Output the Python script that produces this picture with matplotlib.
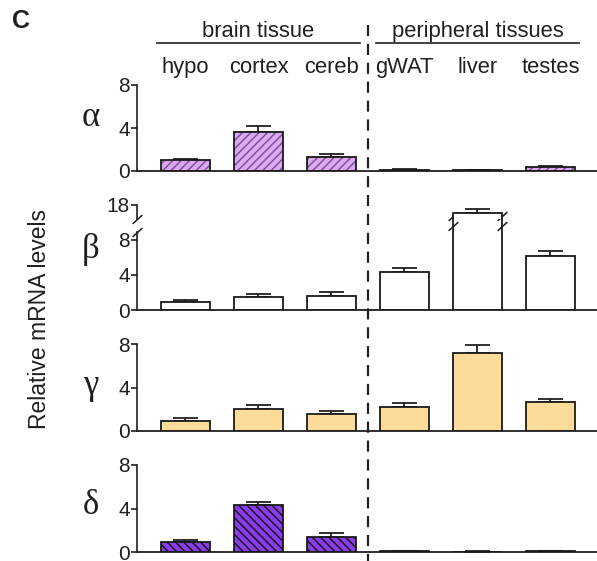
import numpy as np
import matplotlib
matplotlib.use('Agg')
import matplotlib.pyplot as plt
from matplotlib.patches import ConnectionPatch
from matplotlib.transforms import blended_transform_factory

plt.rcParams['font.family'] = ['Liberation Sans', 'DejaVu Sans']
plt.rcParams['hatch.linewidth'] = 1.0

# data
tissues = ['hypo', 'cortex', 'cereb', 'gWAT', 'liver', 'testes']
groups = ['brain tissue', 'peripheral tissues']
alpha_mean = [1.0, 3.65, 1.3, 0.08, 0.05, 0.35]
alpha_err = [0.15, 0.55, 0.25, 0.06, 0.04, 0.1]
beta_mean = [0.9, 1.5, 1.65, 4.3, 17.1, 6.2]
beta_err = [0.2, 0.3, 0.35, 0.5, 0.5, 0.5]
gamma_mean = [0.92, 2.0, 1.6, 2.25, 7.2, 2.65]
gamma_err = [0.23, 0.4, 0.2, 0.35, 0.7, 0.25]
delta_mean = [0.92, 4.3, 1.4, 0.06, 0.03, 0.06]
delta_err = [0.2, 0.33, 0.32, 0.04, 0.02, 0.04]

txt = '#231f20'
pos = np.arange(len(tissues))
w = 0.67
W, H = 597, 561

fig = plt.figure(figsize=(5.97, 5.61), dpi=100)


def add_ax(bottom_px, height_px):
    return fig.add_axes([137 / W, bottom_px / H, 460 / W, height_px / H])


def style(ax, ylim, ticks):
    ax.set_xlim(-0.664, 5.637)
    ax.set_ylim(*ylim)
    ax.set_yticks(ticks)
    ax.set_xticks([])
    for s in ['top', 'right']:
        ax.spines[s].set_visible(False)
    ax.spines['left'].set_linewidth(1.2)
    ax.spines['bottom'].set_linewidth(1.3)
    ax.spines['left'].set_color(txt)
    ax.spines['bottom'].set_color(txt)
    ax.tick_params(axis='y', length=4, width=1.2, pad=1, labelsize=15,
                   colors=txt)
    ax.patch.set_visible(False)


def draw_bars(ax, mean, err, face, hatch=None, hatch_col='k'):
    ax.errorbar(pos, mean, yerr=[np.zeros(len(mean)), err], fmt='none',
                ecolor=txt, elinewidth=1.3, capsize=9, capthick=1.3, zorder=1)
    if hatch:
        ax.bar(pos, mean, w, color=face, edgecolor=hatch_col, hatch=hatch,
               linewidth=0, zorder=2)
        ax.bar(pos, mean, w, fill=False, edgecolor='#1a1a1a', linewidth=1.3,
               zorder=3)
    else:
        ax.bar(pos, mean, w, color=face, edgecolor='#1a1a1a', linewidth=1.3,
               zorder=2)


# alpha
ax_a = add_ax(390, 86)
style(ax_a, (0, 8), [0, 4, 8])
draw_bars(ax_a, alpha_mean, alpha_err, '#dba9f2', '////', '#7a4a92')

# beta (broken axis)
ax_b = add_ax(251, 78)
style(ax_b, (0, 8.9), [0, 4, 8])
draw_bars(ax_b, beta_mean, beta_err, 'white')
ax_b.spines['left'].set_bounds(0, 8.9)

ax_bt = add_ax(342, 14)
style(ax_bt, (16.4, 18), [18])
ax_bt.spines['bottom'].set_visible(False)
draw_bars(ax_bt, beta_mean, beta_err, 'white')

liv = tissues.index('liver')
for xe in [pos[liv] - w / 2, pos[liv] + w / 2]:
    fig.add_artist(ConnectionPatch(xyA=(xe, 8.9), coordsA=ax_b.transData,
                                   xyB=(xe, 16.4), coordsB=ax_bt.transData,
                                   color='#1a1a1a', lw=1.3))
slash = dict(marker=[(-1, -0.9), (1, 0.9)], markersize=7, linestyle='none',
             color='k', mec='#1a1a1a', mew=1.1, clip_on=False, zorder=5)
ax_b.plot([0], [1], transform=ax_b.transAxes, **slash)
ax_bt.plot([0], [0], transform=ax_bt.transAxes, **slash)
tb = blended_transform_factory(ax_b.transData, ax_b.transAxes)
ax_b.plot([pos[liv] - w / 2, pos[liv] + w / 2], [1.08, 1.08], transform=tb, **slash)
ax_b.plot([pos[liv] - w / 2, pos[liv] + w / 2], [1.2, 1.2], transform=tb, **slash)

# gamma
ax_g = add_ax(130, 87)
style(ax_g, (0, 8), [0, 4, 8])
draw_bars(ax_g, gamma_mean, gamma_err, '#fddb98')

# delta
ax_d = add_ax(9, 87)
style(ax_d, (0, 8), [0, 4, 8])
draw_bars(ax_d, delta_mean, delta_err, '#8a3cec', '\\\\\\\\', '#111111')

# greek labels
for s, yp in zip(['α', 'β', 'γ', 'δ'], [118, 250, 385, 505]):
    fig.text(91 / W, 1 - yp / H, s, ha='center', va='center', fontsize=25,
             family=['Liberation Serif', 'DejaVu Serif'], color=txt)

fig.text(40 / W, 1 - 319 / H, 'Relative mRNA levels', rotation=90,
         ha='center', va='center', fontsize=16.5, color=txt)
fig.text(12 / W, 1 - 21 / H, 'C', ha='left', va='center', fontsize=18,
         fontweight='bold', color=txt)

# group headers and tissue names
tr = blended_transform_factory(ax_a.transData, fig.transFigure)
for i, g in enumerate(groups):
    x0, x1 = pos[3 * i] - 0.39, pos[3 * i + 2] + 0.39
    fig.add_artist(plt.Line2D([x0, x1], [1 - 43 / H] * 2, transform=tr,
                              color=txt, lw=1.2))
    fig.text((x0 + x1) / 2, 1 - 37 / H, g, transform=tr, ha='center',
             va='baseline', fontsize=15.8, color=txt)
for p, t in zip(pos, tissues):
    fig.text(p, 1 - 73 / H, t, transform=tr, ha='center', va='baseline',
             fontsize=15.8, color=txt)

# dashed separator
xs = (pos[2] + pos[3]) / 2
fig.add_artist(plt.Line2D([xs, xs], [1 - 25 / H, 0], transform=tr,
                          color=txt, lw=1.6, linestyle=(0, (5, 3.5))))

plt.savefig('out.png', dpi=100)
